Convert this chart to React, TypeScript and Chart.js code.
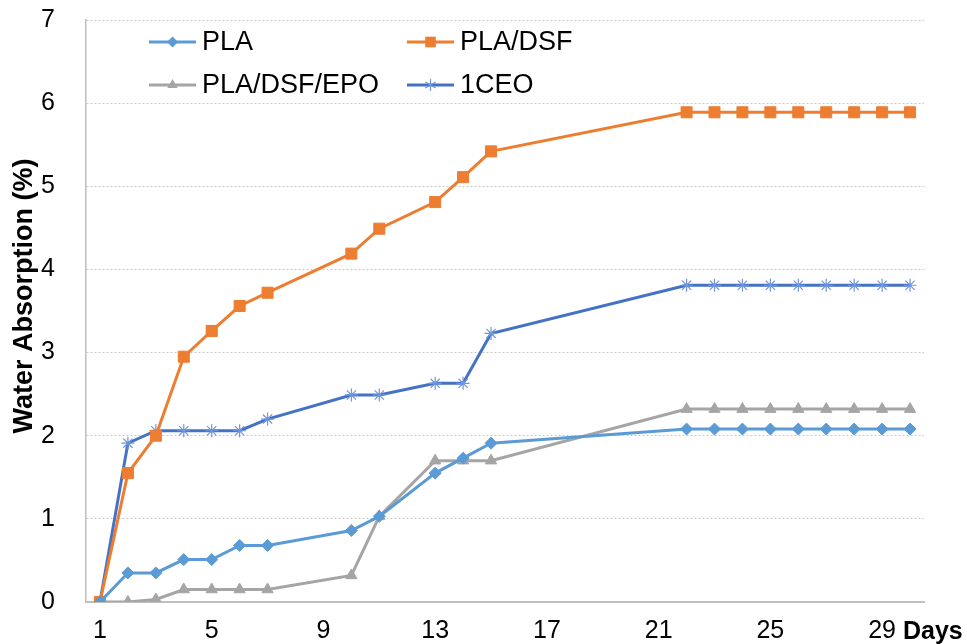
import React, { useEffect, useRef } from 'react';
import { Chart, registerables } from 'chart.js';

Chart.register(...registerables);

const days = [1, 2, 3, 4, 5, 6, 7, 10, 11, 13, 14, 15, 22, 23, 24, 25, 26, 27, 28, 29, 30];
const pla = [0, 0.35, 0.35, 0.51, 0.51, 0.68, 0.68, 0.86, 1.03, 1.55, 1.73, 1.91, 2.08, 2.08, 2.08, 2.08, 2.08, 2.08, 2.08, 2.08, 2.08];
const plaDsf = [0, 1.55, 2.0, 2.95, 3.26, 3.56, 3.72, 4.19, 4.49, 4.81, 5.11, 5.42, 5.89, 5.89, 5.89, 5.89, 5.89, 5.89, 5.89, 5.89, 5.89];
const plaDsfEpo = [0, 0, 0.03, 0.15, 0.15, 0.15, 0.15, 0.32, 1.03, 1.7, 1.7, 1.7, 2.32, 2.32, 2.32, 2.32, 2.32, 2.32, 2.32, 2.32, 2.32];
const ceo = [0, 1.91, 2.06, 2.06, 2.06, 2.06, 2.2, 2.49, 2.49, 2.63, 2.63, 3.23, 3.81, 3.81, 3.81, 3.81, 3.81, 3.81, 3.81, 3.81, 3.81];
const xTicks = [1, 5, 9, 13, 17, 21, 25, 29];
const yTitle = 'Water Absorption (%)';
const xTitle = 'Days';

const FONT = "'Liberation Sans', Arial, sans-serif";

type Series = { label: string; data: number[]; line: string; fill: string; style: string; radius: number; mborder: number };
const seriesList: Series[] = [
  { label: 'PLA', data: pla, line: '#5B9BD5', fill: '#5B9BD5', style: 'rectRot', radius: 6, mborder: 1 },
  { label: 'PLA/DSF', data: plaDsf, line: '#ED7D31', fill: '#ED7D31', style: 'rect', radius: 7.8, mborder: 1 },
  { label: 'PLA/DSF/EPO', data: plaDsfEpo, line: '#A5A5A5', fill: '#A5A5A5', style: 'triangle', radius: 6.5, mborder: 1 },
  { label: '1CEO', data: ceo, line: '#4472C4', fill: '#6F96DA', style: 'star', radius: 6.5, mborder: 1.2 },
];

function drawMarker(ctx: CanvasRenderingContext2D, style: string, x: number, y: number, r: number, color: string) {
  ctx.save();
  ctx.fillStyle = color;
  ctx.strokeStyle = color;
  ctx.lineWidth = 1.2;
  ctx.beginPath();
  if (style === 'rectRot') {
    ctx.moveTo(x, y - r); ctx.lineTo(x + r, y); ctx.lineTo(x, y + r); ctx.lineTo(x - r, y); ctx.closePath(); ctx.fill();
  } else if (style === 'rect') {
    const s = r * Math.SQRT1_2;
    ctx.rect(x - s, y - s, 2 * s, 2 * s); ctx.fill();
  } else if (style === 'triangle') {
    ctx.moveTo(x, y - r); ctx.lineTo(x + r * 0.866, y + r * 0.5); ctx.lineTo(x - r * 0.866, y + r * 0.5); ctx.closePath(); ctx.fill();
  } else {
    ctx.moveTo(x, y - r); ctx.lineTo(x, y + r);
    ctx.moveTo(x - r * 0.866, y - r * 0.5); ctx.lineTo(x + r * 0.866, y + r * 0.5);
    ctx.moveTo(x - r * 0.866, y + r * 0.5); ctx.lineTo(x + r * 0.866, y - r * 0.5);
    ctx.stroke();
  }
  ctx.restore();
}

const overlay = {
  id: 'overlay',
  afterDraw(chart: any) {
    const ctx: CanvasRenderingContext2D = chart.ctx;
    ctx.save();
    const cols = [149, 407];
    const rows = [42, 85];
    seriesList.forEach((s, i) => {
      const x0 = cols[i % 2];
      const y = rows[Math.floor(i / 2)];
      ctx.strokeStyle = s.line;
      ctx.lineWidth = 3;
      ctx.beginPath();
      ctx.moveTo(x0, y);
      ctx.lineTo(x0 + 47, y);
      ctx.stroke();
      drawMarker(ctx, s.style, x0 + 23.5, y, s.style === 'rect' ? 7.5 : s.style === 'rectRot' ? 5.5 : 6, s.fill);
      ctx.fillStyle = '#000';
      ctx.font = `27px ${FONT}`;
      ctx.textAlign = 'left';
      ctx.textBaseline = 'middle';
      ctx.fillText(s.label, x0 + 53, y + 1);
    });
    ctx.save();
    ctx.translate(25, 296);
    ctx.rotate(-Math.PI / 2);
    ctx.font = `bold 27px ${FONT}`;
    ctx.fillStyle = '#000';
    ctx.textAlign = 'center';
    ctx.textBaseline = 'middle';
    ctx.fillText(yTitle, 0, 0);
    ctx.restore();
    ctx.font = `bold 25px ${FONT}`;
    ctx.fillStyle = '#000';
    ctx.textAlign = 'left';
    ctx.textBaseline = 'middle';
    ctx.fillText(xTitle, 903, 632);
    ctx.restore();
  },
};

export default function App() {
  const ref = useRef<HTMLCanvasElement | null>(null);
  useEffect(() => {
    document.body.style.margin = '0';
    const canvas = ref.current!;
    const chart = new Chart(canvas, {
      type: 'line',
      data: {
        datasets: seriesList.map((s) => ({
          label: s.label,
          data: days.map((d, i) => ({ x: d, y: s.data[i] })),
          borderColor: s.line,
          borderWidth: 3,
          backgroundColor: s.fill,
          pointBackgroundColor: s.fill,
          pointBorderColor: s.fill,
          pointBorderWidth: s.mborder,
          pointStyle: s.style as any,
          pointRadius: s.radius,
          tension: 0,
          fill: false,
        })),
      },
      options: {
        responsive: false,
        animation: false,
        layout: { padding: { top: 20, right: 43, left: 0, bottom: 0 } },
        plugins: { legend: { display: false }, tooltip: { enabled: false } },
        scales: {
          x: {
            type: 'linear',
            min: 0.5,
            max: 30.5,
            afterBuildTicks: (scale: any) => {
              scale.ticks = xTicks.map((v) => ({ value: v }));
            },
            afterFit: (scale: any) => {
              scale.height = 42;
              scale.paddingLeft = 0;
              scale.paddingRight = 0;
            },
            grid: { display: false, drawTicks: false },
            border: { display: true, color: '#BFBFBF', width: 2 },
            ticks: {
              autoSkip: false,
              maxRotation: 0,
              padding: 14,
              color: '#000',
              font: { family: FONT, size: 25 },
              callback: (v: any) => String(v),
            },
          },
          y: {
            min: 0,
            max: 7,
            afterFit: (scale: any) => {
              scale.width = 86;
              scale.paddingTop = 0;
              scale.paddingBottom = 0;
            },
            grid: { color: '#C6C6C6', lineWidth: 1, drawTicks: false },
            border: { display: true, color: '#BFBFBF', width: 1.5, dash: [2, 2] },
            ticks: {
              stepSize: 1,
              padding: 31,
              color: '#000',
              font: { family: FONT, size: 25 },
            },
          },
        },
      },
      plugins: [overlay],
    });
    return () => chart.destroy();
  }, []);
  return <canvas ref={ref} width={967} height={644} style={{ display: 'block', width: 967, height: 644 }} />;
}
